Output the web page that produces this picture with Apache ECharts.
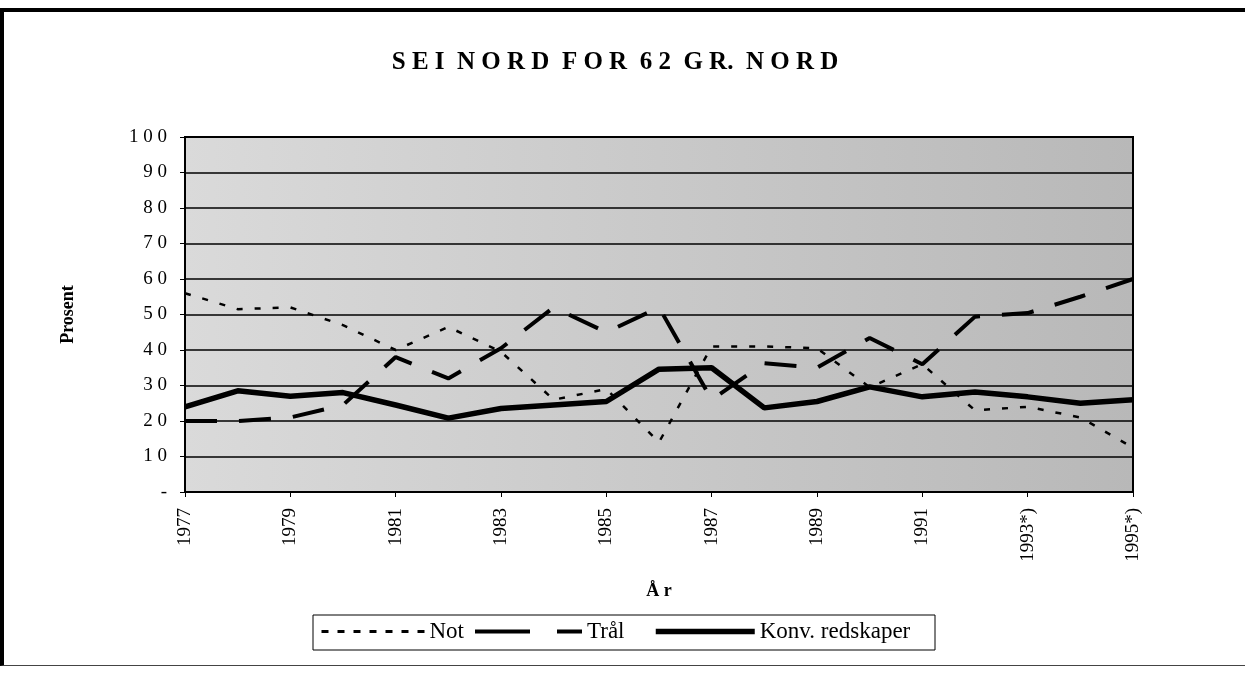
<!DOCTYPE html>
<html>
<head>
<meta charset="utf-8">
<script src="https://cdn.jsdelivr.net/npm/echarts@6/dist/echarts.min.js"></script>
<style>
  html, body { margin: 0; padding: 0; background: #fff; }
  #frame {
    position: absolute; left: 0; top: 8px; width: 1245px; height: 658px;
    border-top: 4px solid #000; border-left: 4px solid #000;
    border-bottom: 1px solid #444; box-sizing: border-box;
  }
  #chart { position: absolute; left: 0; top: 0; width: 1245px; height: 675px; }
</style>
</head>
<body>
<div id="frame"></div>
<div id="chart"></div>
<script>
// år (kategorier)
const years = ['1977', '1978', '1979', '1980', '1981', '1982', '1983', '1984', '1985', '1986',
  '1987', '1988', '1989', '1990', '1991', '1992', '1993*)', '1994*)', '1995*)']
// andeler i prosent
const notValues = [56, 51.5, 52, 47, 40, 46.5, 39.5, 26, 29, 14, 41, 41, 40.5, 29.5, 36, 23, 24, 21, 12.5]
const tralValues = [20, 20, 21, 24.5, 38, 32, 40.5, 52, 45, 52, 26, 36.3, 35, 43.4, 36, 49.4, 50.4, 55, 60]
const konvValues = [24, 28.5, 27, 28, 24.5, 20.8, 23.5, 24.5, 25.5, 34.6, 35, 23.7, 25.5, 29.6, 26.8, 28.2, 26.8, 25, 26]

const chart = echarts.init(document.getElementById('chart'))
const serif = '"Liberation Serif", "DejaVu Serif", serif'
const spaced = s => s.split('').join(' ')

const notLine = { color: '#000', width: 2.5, type: [6, 12] }
const tralLine = { color: '#000', width: 4, type: [32, 22] }
const konvLine = { color: '#000', width: 5.5 }

// en legend per serie, så ikonbreddene kan variere som i originalen
function legendItem(name, left, iconWidth, lineStyle) {
  return {
    left: left,
    top: 620,
    padding: 0,
    itemWidth: iconWidth,
    itemHeight: 8,
    itemStyle: { opacity: 0 },
    textStyle: { fontFamily: serif, fontSize: 23, color: '#000' },
    data: [{ name: name, lineStyle: lineStyle }]
  }
}

chart.setOption({
  animation: false,
  title: {
    text: 'S E I  N O R D  F O R  6 2  G R.  N O R D',
    left: 610,
    textAlign: 'center',
    top: 45,
    textStyle: { fontFamily: serif, fontSize: 25, fontWeight: 'bold', color: '#000' }
  },
  graphic: [
    {
      type: 'rect',
      shape: { x: 313, y: 615, width: 622, height: 35 },
      style: { fill: '#fff', stroke: '#000', lineWidth: 1 },
      z: -1
    }
  ],
  legend: [
    legendItem('Not', 320, 103, { color: '#000', width: 3, type: [7, 9] }),
    legendItem('Trål', 473, 107, { color: '#000', width: 4, type: [55, 27] }),
    legendItem('Konv. redskaper', 653, 99, konvLine)
  ],
  grid: {
    left: 185,
    right: 112,
    top: 137,
    bottom: 183,
    show: true,
    borderColor: '#000',
    borderWidth: 2,
    backgroundColor: new echarts.graphic.LinearGradient(0, 0, 1, 0, [
      { offset: 0, color: '#dadada' },
      { offset: 1, color: '#b8b8b8' }
    ])
  },
  xAxis: {
    type: 'category',
    data: years,
    boundaryGap: false,
    name: 'Å r',
    nameLocation: 'middle',
    nameGap: 90,
    nameTextStyle: { fontFamily: serif, fontSize: 18, fontWeight: 'bold', color: '#000' },
    axisLine: { lineStyle: { color: '#000', width: 2 } },
    axisTick: { show: true, inside: false, length: 5, lineStyle: { color: '#000' } },
    axisLabel: {
      interval: 1,
      rotate: 90,
      margin: 16,
      fontFamily: serif,
      fontSize: 19,
      color: '#000'
    },
    splitLine: { show: false }
  },
  yAxis: {
    type: 'value',
    min: 0,
    max: 100,
    interval: 10,
    name: 'Prosent',
    nameLocation: 'middle',
    nameGap: 108,
    nameRotate: 90,
    nameTextStyle: { fontFamily: serif, fontSize: 18, fontWeight: 'bold', color: '#000' },
    axisLine: { show: true, lineStyle: { color: '#000', width: 2 } },
    axisTick: { show: true, length: 5, lineStyle: { color: '#000' } },
    axisLabel: {
      margin: 18,
      fontFamily: serif,
      fontSize: 19,
      color: '#000',
      formatter: v => v === 0 ? '-' : spaced(String(v))
    },
    splitLine: { lineStyle: { color: '#000', width: 1.5 } }
  },
  series: [
    { name: 'Not', type: 'line', data: notValues, symbol: 'none', itemStyle: { color: '#000' }, lineStyle: notLine },
    { name: 'Trål', type: 'line', data: tralValues, symbol: 'none', itemStyle: { color: '#000' }, lineStyle: tralLine },
    { name: 'Konv. redskaper', type: 'line', data: konvValues, symbol: 'none', itemStyle: { color: '#000' }, lineStyle: konvLine }
  ]
})
</script>
</body>
</html>
